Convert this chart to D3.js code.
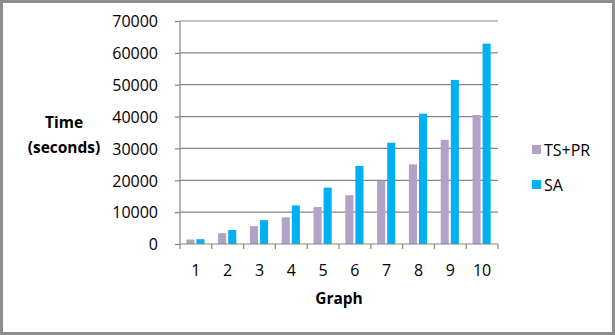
<!DOCTYPE html>
<html lang="en">
<head>
<meta charset="UTF-8">
<title>Time per graph</title>
<script src="https://cdn.jsdelivr.net/npm/d3@7"></script>
<style>
  body { margin: 0; background: #fff; }
  text { font-family: "Open Sans", sans-serif; fill: #000; }
</style>
</head>
<body>
<svg width="615" height="335"></svg>
<script>
// data
const graphs = ["1", "2", "3", "4", "5", "6", "7", "8", "9", "10"];
const tsPr = [1400, 3400, 5600, 8400, 11600, 15300, 19800, 25000, 32700, 40500];
const sa = [1500, 4400, 7500, 12100, 17700, 24500, 31800, 40900, 51500, 62900];
const seriesNames = ["TS+PR", "SA"];
const yTicks = [0, 10000, 20000, 30000, 40000, 50000, 60000, 70000];

const colors = {"TS+PR": "#b3a2c7", "SA": "#00b0f0"};
const rows = graphs.map((g, i) => ({graph: g, "TS+PR": tsPr[i], "SA": sa[i]}));

const svg = d3.select("svg");
const plot = {left: 180, right: 498, top: 21, bottom: 244};

// outer frame
svg.append("rect")
    .attr("x", 1.5).attr("y", 1.5)
    .attr("width", 612).attr("height", 332)
    .attr("fill", "#fff")
    .attr("stroke", "#8e8e8e").attr("stroke-width", 3);

const x = d3.scaleBand().domain(graphs).range([plot.left, plot.right]);
const xs = d3.scaleBand().domain(seriesNames).range([0, x.bandwidth()]).paddingOuter(0.75);
const y = d3.scaleLinear().domain([0, 70000]).range([plot.bottom, plot.top]);

// gridlines
svg.append("g").selectAll("line").data(yTicks.slice(1)).join("line")
    .attr("x1", plot.left).attr("x2", plot.right)
    .attr("y1", d => y(d)).attr("y2", d => y(d))
    .attr("stroke", "#868686").attr("stroke-width", 1.2);

// bars
svg.append("g").selectAll("g").data(rows).join("g")
    .attr("transform", d => "translate(" + x(d.graph) + ",0)")
  .selectAll("rect")
    .data(d => seriesNames.map(k => ({key: k, value: d[k]})))
    .join("rect")
    .attr("x", d => xs(d.key) + (d.key == "SA" ? 0.5 : -0.5))
    .attr("width", xs.bandwidth() - 1)
    .attr("y", d => y(d.value))
    .attr("height", d => y(0) - y(d.value))
    .attr("fill", d => colors[d.key]);

// y axis
const yAxis = svg.append("g")
    .attr("transform", "translate(" + plot.left + ",0)")
    .call(d3.axisLeft(y).tickValues(yTicks).tickSize(5).tickPadding(17).tickFormat(d3.format("d")));
yAxis.selectAll("text").style("font-size", "16px").attr("dy", "0.36em");

// x axis: ticks at the category edges
const xAxis = svg.append("g")
    .attr("transform", "translate(0," + plot.bottom + ")");
xAxis.append("line")
    .attr("x1", plot.left).attr("x2", plot.right)
    .attr("stroke", "#868686").attr("stroke-width", 1.2);
xAxis.selectAll(".edge").data(graphs.concat(["end"])).join("line")
    .attr("class", "edge")
    .attr("x1", (d, i) => plot.left + i * x.step())
    .attr("x2", (d, i) => plot.left + i * x.step())
    .attr("y1", 0).attr("y2", 5)
    .attr("stroke", "#868686").attr("stroke-width", 1.2);
xAxis.selectAll("text").data(graphs).join("text")
    .attr("x", d => x(d) + x.bandwidth() / 2)
    .attr("y", 32)
    .attr("text-anchor", "middle")
    .style("font-size", "16px")
    .text(d => d);

yAxis.selectAll("path, line").attr("stroke", "#868686").attr("stroke-width", 1.2);
yAxis.select("path").attr("d", "M0," + plot.top + "V" + plot.bottom);

// axis titles
svg.append("text")
    .attr("x", 339).attr("y", 304)
    .attr("text-anchor", "middle")
    .style("font-size", "15.5px").style("font-weight", "bold")
    .text("Graph");
const yTitle = svg.append("text")
    .attr("text-anchor", "middle")
    .style("font-size", "15.5px").style("font-weight", "bold");
yTitle.append("tspan").attr("x", 64).attr("y", 128).text("Time");
yTitle.append("tspan").attr("x", 64).attr("y", 153).text("(seconds)");

// legend
const legend = svg.append("g").selectAll("g").data(seriesNames).join("g")
    .attr("transform", (d, i) => "translate(532," + (145 + i * 35) + ")");
legend.append("rect")
    .attr("width", 9).attr("height", 9)
    .attr("fill", d => colors[d]);
legend.append("text")
    .attr("x", 12).attr("y", 11)
    .style("font-size", "16px")
    .text(d => d);
</script>
</body>
</html>
